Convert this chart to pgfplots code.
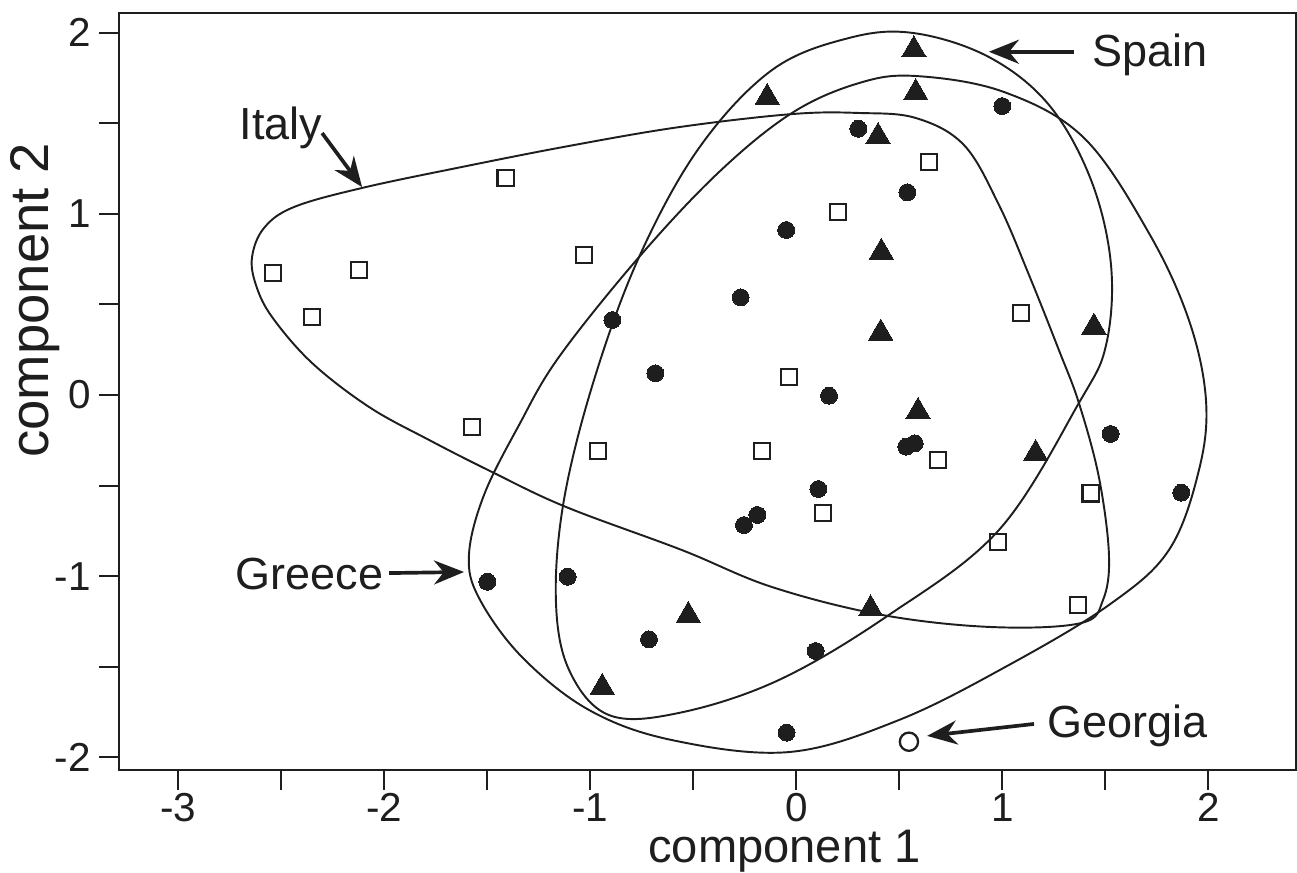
\documentclass[border=0pt]{standalone}
\usepackage{pgfplots}
\pgfplotsset{compat=1.18}
\usepackage{fontspec}
\setmainfont{Liberation Sans}
\usetikzlibrary{arrows.meta}
\definecolor{ink}{HTML}{1E1E1E}
\begin{document}
\begin{tikzpicture}
\begin{axis}[
  scale only axis,
  width=117.7mm, height=75.7mm,
  xmin=-3.288, xmax=2.426, ymin=-2.070, ymax=2.109,
  axis line style={line width=0.6pt, color=ink},
  xtick={-3,-2,-1,0,1,2}, ytick={-2,-1,0,1,2},
  minor xtick={-2.5,-1.5,-0.5,0.5,1.5},
  minor ytick={-1.5,-0.5,0.5,1.5},
  tick align=outside,
  xtick pos=bottom, ytick pos=left,
  major tick length=2mm, minor tick length=2mm,
  every tick/.style={line width=0.6pt, color=ink},
  every minor tick/.style={line width=0.6pt, color=ink},
  /pgf/number format/assume math mode=true,
  ticklabel style={font=\fontsize{11.5}{13}\selectfont, text=ink},
  xticklabel style={yshift=0.9mm},
  yticklabel style={xshift=0.4mm},
  clip=false,
]
\coordinate (BL) at (rel axis cs:0,0);
\coordinate (TR) at (rel axis cs:1,1);

% Italy envelope
\addplot[smooth cycle, tension=0.6, line width=0.55pt, color=ink] coordinates {
(-2.642,0.762) (-2.584,0.922) (-2.438,1.038) (-2.108,1.143) (-1.623,1.259)
(-1.103,1.375) (-0.569,1.479) (-0.021,1.551) (0.304,1.557) (0.581,1.529)
(0.814,1.380) (0.984,1.049) (1.130,0.662) (1.275,0.248) (1.372,-0.044)
(1.469,-0.453) (1.518,-0.883) (1.489,-1.132) (1.382,-1.259) (0.950,-1.281)
(0.416,-1.214) (-0.118,-1.060) (-0.555,-0.856) (-1.118,-0.618) (-1.477,-0.425)
(-1.783,-0.248) (-2.074,-0.066) (-2.351,0.177) (-2.545,0.431) (-2.623,0.607)
};
% Spain envelope
\addplot[smooth cycle, tension=0.6, line width=0.55pt, color=ink] coordinates {
(0.571,1.998) (0.935,1.866) (1.227,1.601) (1.431,1.187) (1.528,0.718)
(1.504,0.276) (1.372,-0.044) (0.984,-0.745) (0.450,-1.214) (-0.084,-1.573)
(-0.569,-1.755) (-0.909,-1.767) (-1.103,-1.518) (-1.167,-1.132) (-1.128,-0.580)
(-0.982,0.083) (-0.763,0.762) (-0.472,1.364) (-0.118,1.794) (0.256,1.971)
};
% Greece envelope
\addplot[smooth cycle, tension=0.6, line width=0.55pt, color=ink] coordinates {
(0.581,1.761) (1.008,1.673) (1.397,1.419) (1.712,0.894) (1.906,0.414)
(1.989,-0.028) (1.955,-0.414) (1.809,-0.856) (1.518,-1.159) (1.033,-1.490)
(0.499,-1.794) (-0.035,-1.971) (-0.603,-1.905) (-1.006,-1.739) (-1.332,-1.446)
(-1.540,-1.121) (-1.589,-0.883) (-1.516,-0.552) (-1.346,-0.166) (-1.152,0.210)
(-0.763,0.762) (-0.375,1.231) (-0.021,1.557) (0.304,1.722)
};

% triangles
\addplot[only marks, mark=triangle*, mark size=4pt, mark options={fill=ink, draw=ink, line width=0pt}] coordinates {
(0.571,1.906) (0.580,1.669) (-0.141,1.643) (0.397,1.427) (0.413,0.788) (0.410,0.342)
(1.445,0.375) (0.591,-0.091) (1.162,-0.323) (-0.524,-1.217) (0.361,-1.181) (-0.942,-1.614)
};
% filled circles
\addplot[only marks, mark=*, mark size=2.4pt, mark options={fill=ink, draw=ink, line width=0pt}] coordinates {
(1.000,1.595) (0.301,1.470) (0.539,1.119) (-0.049,0.911) (-0.270,0.539) (-0.893,0.414)
(-0.684,0.120) (0.159,-0.004) (0.534,-0.285) (0.575,-0.267) (1.526,-0.215) (1.869,-0.539)
(0.107,-0.519) (-0.189,-0.662) (-0.254,-0.718) (-1.500,-1.031) (-1.110,-1.003) (-0.715,-1.349)
(0.094,-1.413) (-0.047,-1.864)
};
% open squares
\addplot[only marks, mark=square, mark size=2.3pt, mark options={draw=ink, line width=0.6pt}] coordinates {
(-1.411,1.200) (0.644,1.285) (0.204,1.010) (-1.031,0.773) (-2.542,0.675) (-2.123,0.690)
(-2.352,0.431) (1.092,0.453) (-0.035,0.098) (-1.576,-0.178) (-0.961,-0.309) (-0.168,-0.309)
(0.688,-0.359) (0.131,-0.650) (1.429,-0.543) (0.981,-0.810) (1.367,-1.159)
};
% Georgia
\addplot[only marks, mark=o, mark size=2.6pt, mark options={draw=ink, line width=0.65pt}] coordinates {
(0.547,-1.914)
};

% annotations
\tikzset{lab/.style={anchor=base west, inner sep=0pt, text=ink, font=\fontsize{12.8}{14}\selectfont},
         arr/.style={line width=1.05pt, color=ink, -{Stealth[length=3mm,width=2.4mm]}}}
\node[lab] at (axis cs:-2.705,1.408) {Italy};
\draw[arr] (axis cs:-2.302,1.446) -- (axis cs:-2.108,1.148);
\node[lab] at (axis cs:1.436,1.811) {Spain};
\draw[arr] (axis cs:1.348,1.895) -- (axis cs:0.935,1.895);
\node[lab] at (axis cs:-2.725,-1.071) {Greece};
\draw[arr] (axis cs:-1.977,-0.983) -- (axis cs:-1.613,-0.977);
\node[lab] at (axis cs:1.217,-1.893) {Georgia};
\draw[arr] (axis cs:1.154,-1.816) -- (axis cs:0.635,-1.882);

% axis labels
\node[anchor=base, inner sep=0pt, text=ink, font=\fontsize{13.4}{15}\selectfont] at (axis cs:-0.057,-2.583) {component 1};
\node[anchor=base, rotate=90, inner sep=0pt, text=ink, font=\fontsize{15.5}{17}\selectfont] at (axis cs:-3.628,0.524) {component 2};
\end{axis}
\pgfresetboundingbox
\path[use as bounding box] ([xshift=-11.9mm,yshift=-10.3mm]BL) rectangle ([xshift=0.1mm,yshift=1.3mm]TR);
\end{tikzpicture}
\end{document}
